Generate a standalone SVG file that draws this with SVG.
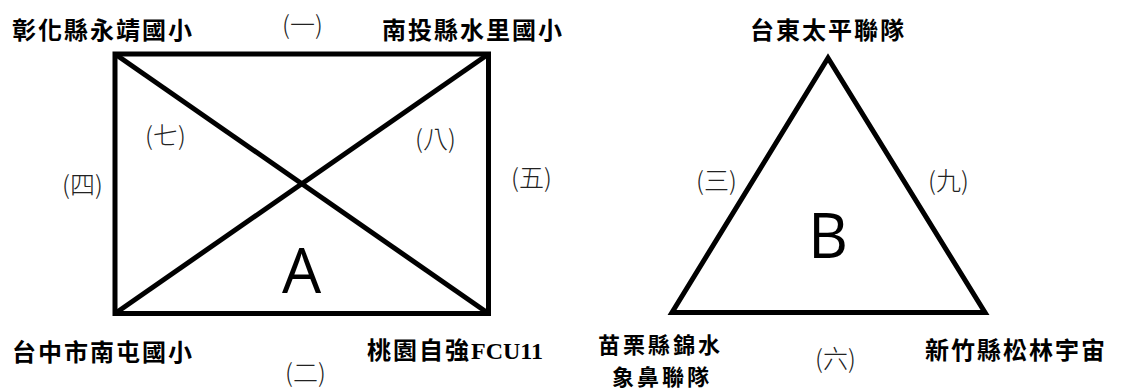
<svg xmlns="http://www.w3.org/2000/svg" width="1126" height="389" viewBox="0 0 1126 389">
<style>
.name{font-family:"Noto Sans CJK TC","Noto Sans CJK SC",sans-serif;font-weight:700;font-size:24px;letter-spacing:2px;fill:#000}
.tight{font-size:22px;letter-spacing:3px}
.lat{font-family:"Liberation Serif",serif;font-weight:700;letter-spacing:0}
.lbl{font-family:"Noto Sans CJK TC","Noto Sans CJK SC",sans-serif;font-weight:300;font-size:25px;fill:#222}
.big{font-family:"Open Sans","Liberation Sans",sans-serif;font-size:62px;fill:#000}
.edge{stroke:#000;stroke-width:5;fill:none;stroke-linejoin:miter}
</style>
<rect width="1126" height="389" fill="#fff"/>
<g id="connectors">
  <rect class="edge" x="115" y="54" width="373.5" height="259.5"/>
  <line class="edge" x1="115" y1="54" x2="488.5" y2="313.5"/>
  <line class="edge" x1="488.5" y1="54" x2="115" y2="313.5"/>
  <polygon class="edge" points="828,58 672,312.5 985,312.5"/>
  <text class="lbl" x="282" y="34">(一)</text>
  <text class="lbl" x="285" y="382">(二)</text>
  <text class="lbl" x="62" y="194">(四)</text>
  <text class="lbl" x="511" y="187">(五)</text>
  <text class="lbl" x="145" y="145">(七)</text>
  <text class="lbl" x="415" y="148">(八)</text>
  <text class="lbl" x="696" y="190">(三)</text>
  <text class="lbl" x="928" y="190">(九)</text>
  <text class="lbl" x="815" y="368">(六)</text>
</g>
<g id="groupA"><text class="big" x="282" y="293">A</text></g>
<g id="groupB"><text class="big" x="808" y="258">B</text></g>
<g id="n-yongjing"><text class="name" x="12" y="39">彰化縣永靖國小</text></g>
<g id="n-shuili"><text class="name" x="382" y="39">南投縣水里國小</text></g>
<g id="n-nantun"><text class="name" x="12" y="361">台中市南屯國小</text></g>
<g id="n-taoyuan"><text class="name" x="367" y="359">桃園自強<tspan class="lat">FCU11</tspan></text></g>
<g id="n-taidong"><text class="name" x="750" y="39">台東太平聯隊</text></g>
<g id="n-miaoli"><text class="name tight" x="598" y="353">苗栗縣錦水</text><text class="name tight" x="612" y="385">象鼻聯隊</text></g>
<g id="n-hsinchu"><text class="name" x="925" y="359">新竹縣松林宇宙</text></g>
</svg>
